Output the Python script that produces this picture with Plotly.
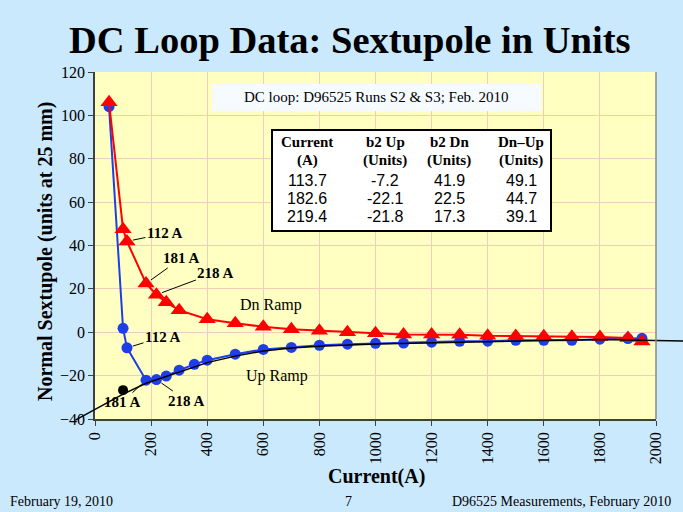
import plotly.graph_objects as go

# ---------------- data ----------------
dn_current = [50, 100, 114, 182, 219, 254, 300, 400, 500, 600, 700, 800, 900, 1000,
              1100, 1200, 1300, 1400, 1500, 1600, 1700, 1800, 1900, 1950]
dn_b2 = [106, 47.5, 41.9, 22.5, 17.3, 13.8, 10.2, 6.0, 4.2, 2.5, 1.4, 0.7, 0.0, -0.5,
         -1.0, -1.0, -1.1, -1.6, -1.7, -1.8, -2.1, -2.2, -2.6, -4.3]

up_current = [50, 100, 114, 182, 219, 254, 300, 354, 400, 500, 600, 700, 800, 900, 1000,
              1100, 1200, 1300, 1400, 1500, 1600, 1700, 1800, 1900, 1950]
up_b2 = [104, 1.8, -7.2, -22.1, -21.8, -20.2, -17.5, -14.8, -12.9, -10.1, -7.9, -7.0, -6.0,
         -5.5, -5.1, -5.0, -4.6, -4.2, -4.1, -3.7, -3.7, -3.7, -3.2, -2.9, -2.8]

fit_current = [-70, 0, 100, 182, 250, 300, 400, 500, 600, 700, 800, 1000, 1200, 1400,
               1600, 1800, 2000, 2100]
fit_b2 = [-40.5, -35.5, -28.5, -23.5, -20.5, -18.5, -14.0, -11.0, -8.6, -7.3, -6.4, -5.4,
          -4.8, -4.3, -3.8, -3.4, -3.8, -4.0]

virgin_current = [100]
virgin_b2 = [-26.7]

table_header1 = ["Current", "b2 Up", "b2 Dn", "Dn\u2013Up"]
table_header2 = ["(A)", "(Units)", "(Units)", "(Units)"]
table_current = ["113.7", "182.6", "219.4"]
table_up = ["-7.2", "-22.1", "-21.8"]
table_dn = ["41.9", "22.5", "17.3"]
table_diff = ["49.1", "44.7", "39.1"]

x_ticks = list(range(0, 2001, 200))
y_ticks = list(range(-40, 121, 20))

# ---------------- geometry ----------------
W, H = 683, 512
PL, PR, PT, PB = 95, 656, 72, 419          # plot area in pixels
XMIN, XMAX, YMIN, YMAX = 0, 2000, -40, 120
sx = (PR - PL) / (XMAX - XMIN)
sy = (PB - PT) / (YMAX - YMIN)


def px(x):
    return x / W


def py(y):
    return 1 - y / H


SERIF = "Liberation Serif"
SANS = "Liberation Sans"
BG = "#cbe9fd"
YEL = "#ffffc2"
GRID = "#f0cdbd"
RED = "#ff0000"
BLUE = "#1e3ee6"

fig = go.Figure()

fig.add_trace(go.Scatter(x=up_current, y=up_b2, mode="lines+markers",
                         line=dict(color=BLUE, width=2),
                         marker=dict(symbol="circle", size=11, color=BLUE),
                         xaxis="x", yaxis="y", showlegend=False))
fig.add_trace(go.Scatter(x=dn_current, y=dn_b2, mode="lines+markers",
                         line=dict(color=RED, width=2),
                         marker=dict(symbol="triangle-up", size=15, color=RED),
                         xaxis="x", yaxis="y", showlegend=False))
fig.add_trace(go.Scatter(x=virgin_current, y=virgin_b2, mode="markers",
                         marker=dict(symbol="circle", size=10, color="black"),
                         xaxis="x", yaxis="y", showlegend=False))
# fitted black curve on an extended (invisible) axis pair so it can run past the frame
fig.add_trace(go.Scatter(x=fit_current, y=fit_b2, mode="lines",
                         line=dict(color="black", width=1.5),
                         xaxis="x2", yaxis="y2", showlegend=False))

x2_lo = XMIN - PL / sx
x2_hi = XMAX + (W - PR) / sx
y2_lo = YMIN - (H - PB) / sy
y2_hi = YMAX + PT / sy

axis_common = dict(showline=True, linecolor="#404040", linewidth=1.5,
                   ticks="outside", ticklen=5, tickcolor="#404040",
                   showgrid=True, gridcolor=GRID, gridwidth=1, zeroline=False,
                   automargin=False,
                   tickfont=dict(family=SERIF, size=16, color="black"))

fig.update_layout(
    width=W, height=H, autosize=False,
    margin=dict(l=0, r=0, t=0, b=0, pad=0),
    paper_bgcolor=BG, plot_bgcolor="rgba(0,0,0,0)",
    xaxis=dict(domain=[px(PL), px(PR)], range=[XMIN, XMAX], tickvals=x_ticks,
               tickangle=-90, anchor="y", **axis_common),
    yaxis=dict(domain=[py(PB), py(PT)], range=[YMIN, YMAX], tickvals=y_ticks,
               anchor="x", **axis_common),
    xaxis2=dict(domain=[0, 1], range=[x2_lo, x2_hi], visible=False, anchor="y2"),
    yaxis2=dict(domain=[0, 1], range=[y2_lo, y2_hi], visible=False, anchor="x2"),
    showlegend=False,
)

shapes = [
    dict(type="rect", xref="x domain", yref="y domain", x0=0, x1=1, y0=0, y1=1,
         fillcolor=YEL, line=dict(width=0), layer="below"),
    dict(type="line", xref="x domain", yref="y domain", x0=1, x1=1, y0=0, y1=1,
         line=dict(color="#8a8a8a", width=1.5), layer="above"),
    # info box
    dict(type="rect", xref="paper", yref="paper", x0=px(212), x1=px(541), y0=py(111), y1=py(84),
         fillcolor="#f6fbff", line=dict(width=0), layer="above"),
    # table box
    dict(type="rect", xref="paper", yref="paper", x0=px(272), x1=px(551), y0=py(231), y1=py(130),
         fillcolor="white", line=dict(color="black", width=2), layer="above"),
]
fig.update_layout(shapes=shapes)

ann = []


def text(xp, yp, s, size, family=SERIF, bold=False, **kw):
    ann.append(dict(xref="paper", yref="paper", x=px(xp), y=py(yp), text=("<b>%s</b>" % s) if bold else s,
                    showarrow=False, xanchor=kw.pop("xanchor", "center"), yanchor="middle",
                    font=dict(family=family, size=size, color="black"), **kw))


text(350, 40, "DC Loop Data: Sextupole in Units", 38.5, bold=True)
text(45, 252, "Normal Sextupole (units at 25 mm)", 20, bold=True, textangle=-90)
text(376, 476, "Current(A)", 20, bold=True)
text(8, 501, "February 19, 2010", 14, xanchor="left")
text(348, 501, "7", 14)
text(673, 501, "D96525 Measurements, February 2010", 14, xanchor="right")
text(376, 97, "DC loop: D96525 Runs S2 &amp; S3; Feb. 2010", 15)
text(271, 305, "Dn Ramp", 16)
text(277, 376, "Up Ramp", 16)

col_x = [307, 385, 449, 521]
for i, cx in enumerate(col_x):
    text(cx, 142, table_header1[i], 15, bold=True)
    text(cx, 160, table_header2[i], 15, bold=True)
rows_y = [180, 198, 216]
for r, ry in enumerate(rows_y):
    for cx, col in zip(col_x, [table_current, table_up, table_dn, table_diff]):
        text(cx, ry, col[r], 16, family=SANS)


def leader(x, y, label, ax, ay):
    ann.append(dict(xref="x", yref="y", x=x, y=y, text="<b>%s</b>" % label, showarrow=True,
                    arrowhead=0, arrowwidth=1, arrowcolor="black", ax=ax, ay=ay, standoff=6,
                    font=dict(family=SERIF, size=15, color="black")))


leader(dn_current[2], dn_b2[2], "112 A", 38, -8)
leader(dn_current[3], dn_b2[3], "181 A", 35, -25)
leader(dn_current[4], dn_b2[4], "218 A", 59, -22)
leader(up_current[2], up_b2[2], "112 A", 36, -11)
leader(up_current[3], up_b2[3], "181 A", -24, 22)
leader(up_current[4], up_b2[4], "218 A", 30, 21)

fig.update_layout(annotations=ann)

fig.write_html("out.html", config={"displayModeBar": False},
               post_script="document.body.style.margin='0';document.body.style.overflow='hidden';")
